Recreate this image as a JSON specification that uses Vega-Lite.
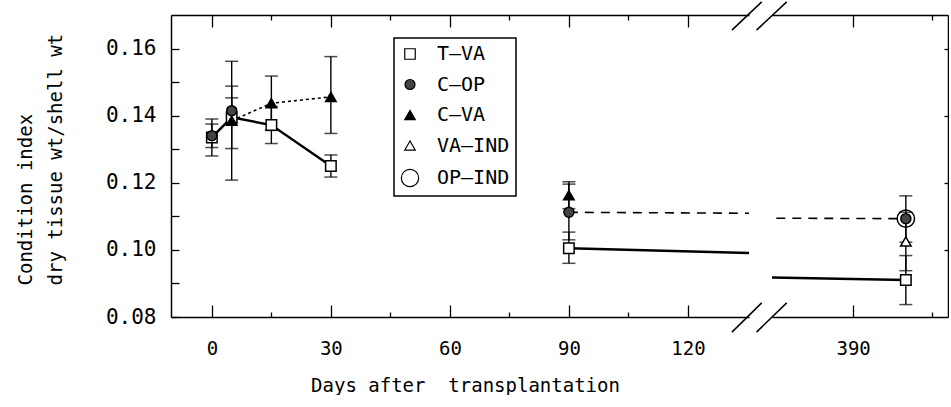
{
  "$schema": "https://vega.github.io/schema/vega-lite/v6.json",
  "background": "white",
  "padding": {"left": 16, "top": 1, "right": 0, "bottom": 0},
  "autosize": {"type": "pad"},
  "spacing": 23,
  "bounds": "flush",
  "config": {
    "view": {"stroke": null},
    "axis": {
      "labelFont": "DejaVu Sans Mono",
      "titleFont": "DejaVu Sans Mono",
      "labelColor": "black",
      "titleColor": "black",
      "domainColor": "black",
      "tickColor": "black",
      "domainWidth": 1.5,
      "tickWidth": 1.3,
      "grid": false,
      "labelFontSize": 19,
      "titleFontSize": 19,
      "titleFontWeight": "normal",
      "labelFlush": false,
      "labelOverlap": false
    },
    "legend": {"strokeWidth": 1.5}
  },
  "datasets": {
    "ci": [
      {"series": "T-VA", "day": 0, "ci": 0.1335, "lo": 0.128, "hi": 0.139, "line": "t1"},
      {"series": "C-OP", "day": 0, "ci": 0.134, "lo": 0.1305, "hi": 0.1375, "line": null},
      {"series": "T-VA", "day": 5, "ci": 0.1395, "lo": 0.1302, "hi": 0.1488, "line": "t1"},
      {"series": "C-VA", "day": 5, "ci": 0.1385, "lo": 0.1208, "hi": 0.1562, "line": "cva"},
      {"series": "C-OP", "day": 5, "ci": 0.1415, "lo": 0.1377, "hi": 0.1453, "line": null},
      {"series": "T-VA", "day": 15, "ci": 0.1372, "lo": 0.1317, "hi": 0.1427, "line": "t1"},
      {"series": "C-VA", "day": 15, "ci": 0.1437, "lo": 0.1356, "hi": 0.1518, "line": "cva"},
      {"series": "T-VA", "day": 30, "ci": 0.125, "lo": 0.1217, "hi": 0.1283, "line": "t1"},
      {"series": "C-VA", "day": 30, "ci": 0.1456, "lo": 0.1347, "hi": 0.1576, "line": "cva"},
      {"series": "T-VA", "day": 90, "ci": 0.1005, "lo": 0.096, "hi": 0.1053, "line": "t2"},
      {"series": "C-OP", "day": 90, "ci": 0.1112, "lo": 0.103, "hi": 0.1196, "line": "cop"},
      {"series": "C-VA", "day": 90, "ci": 0.1163, "lo": 0.1123, "hi": 0.1203, "line": null},
      {"series": "T-VA", "day": 400, "ci": 0.091, "lo": 0.0837, "hi": 0.0983, "line": "t2"},
      {"series": "VA-IND", "day": 400, "ci": 0.1025, "lo": 0.0938, "hi": 0.1112, "line": null},
      {"series": "C-OP", "day": 400, "ci": 0.1093, "lo": 0.1093, "hi": 0.1093, "line": "cop"},
      {"series": "OP-IND", "day": 400, "ci": 0.1093, "lo": 0.1023, "hi": 0.1161, "line": null}
    ],
    "brk": [
      {"x1": 131.1, "y1": 0.0755, "x2": 138.6, "y2": 0.0842},
      {"x1": 137.3, "y1": 0.0755, "x2": 144.9, "y2": 0.0842},
      {"x1": 131.1, "y1": 0.1655, "x2": 138.6, "y2": 0.1739},
      {"x1": 137.3, "y1": 0.1655, "x2": 144.9, "y2": 0.1739}
    ]
  },
  "resolve": {"scale": {"shape": "independent", "fill": "independent", "size": "independent"}},
  "hconcat": [
    {
      "width": 578,
      "height": 302,
      "data": {"name": "ci"},
      "resolve": {"axis": {"x": "independent", "y": "independent"}},
      "layer": [
        {
          "data": {"name": "brk"},
          "mark": {"type": "rule", "clip": false, "strokeWidth": 1.5, "color": "black"},
          "encoding": {
            "x": {"field": "x1", "type": "quantitative", "scale": {"domain": [-10.3, 135.4], "nice": false, "zero": false}, "axis": null},
            "x2": {"field": "x2"},
            "y": {"field": "y1", "type": "quantitative", "scale": {"domain": [0.08, 0.17], "nice": false, "zero": false}, "axis": null},
            "y2": {"field": "y2"}
          }
        },
        {
          "transform": [{"filter": "datum.line === 't1' || datum.line === 't2'"}],
          "mark": {"type": "line", "clip": true, "color": "black", "strokeWidth": 2.5},
          "encoding": {
            "x": {"field": "day", "type": "quantitative", "scale": {"domain": [-10.3, 135.4], "nice": false, "zero": false},
              "axis": {"orient": "bottom", "values": [0, 30, 60, 90, 120], "tickSize": -12, "labelPadding": 34, "domain": true,
                "title": "Days after\u00a0 transplantation", "titleX": 294, "titleY": 68, "titleBaseline": "middle", "titleAlign": "center"}},
            "y": {"field": "ci", "type": "quantitative", "scale": {"domain": [0.08, 0.17], "nice": false, "zero": false},
              "axis": {"orient": "left", "values": [0.08, 0.09, 0.1, 0.11, 0.12, 0.13, 0.14, 0.15, 0.16], "tickSize": -8, "labelPadding": 23,
                "labelFontSize": 21, "labelExpr": "round(datum.value*100) % 2 === 0 ? format(datum.value, '.2f') : ''", "domain": true,
                "title": ["Condition index", "dry tissue wt/shell wt"], "titleLineHeight": 30, "titleX": -146, "titleY": 270,
                "titleAlign": "left", "titleBaseline": "middle", "titleAngle": 270}},
            "detail": {"field": "line"}
          }
        },
        {
          "transform": [{"filter": "datum.line === 'cva'"}],
          "mark": {"type": "line", "clip": true, "color": "black", "strokeWidth": 1.6, "strokeDash": [3, 3]},
          "encoding": {
            "x": {"field": "day", "type": "quantitative", "scale": {"domain": [-10.3, 135.4], "nice": false, "zero": false},
              "axis": {"orient": "bottom", "values": [15, 45, 75, 105], "tickSize": -5, "labels": false, "domain": false, "title": null}},
            "y": {"field": "ci", "type": "quantitative", "scale": {"domain": [0.08, 0.17], "nice": false, "zero": false}, "axis": null}
          }
        },
        {
          "transform": [{"filter": "datum.line === 'cop'"}],
          "mark": {"type": "line", "clip": true, "color": "black", "strokeWidth": 1.6, "strokeDash": [9, 7]},
          "encoding": {
            "x": {"field": "day", "type": "quantitative", "scale": {"domain": [-10.3, 135.4], "nice": false, "zero": false},
              "axis": {"orient": "top", "values": [0, 30, 60, 90, 120], "tickSize": -12, "labels": false, "domain": true, "title": null}},
            "y": {"field": "ci", "type": "quantitative", "scale": {"domain": [0.08, 0.17], "nice": false, "zero": false}, "axis": null}
          }
        },
        {
          "transform": [{"filter": "datum.day < 300"}],
          "mark": {"type": "rule", "color": "black", "strokeWidth": 1.4},
          "encoding": {
            "x": {"field": "day", "type": "quantitative", "scale": {"domain": [-10.3, 135.4], "nice": false, "zero": false},
              "axis": {"orient": "top", "values": [15, 45, 75, 105], "tickSize": -5, "labels": false, "domain": false, "title": null}},
            "y": {"field": "lo", "type": "quantitative", "scale": {"domain": [0.08, 0.17], "nice": false, "zero": false}, "axis": null},
            "y2": {"field": "hi"}
          }
        },
        {
          "transform": [{"filter": "datum.day < 300"}],
          "mark": {"type": "tick", "orient": "horizontal", "color": "black", "size": 13, "thickness": 1.5},
          "encoding": {
            "x": {"field": "day", "type": "quantitative", "scale": {"domain": [-10.3, 135.4], "nice": false, "zero": false}, "axis": null},
            "y": {"field": "lo", "type": "quantitative", "scale": {"domain": [0.08, 0.17], "nice": false, "zero": false}, "axis": null}
          }
        },
        {
          "transform": [{"filter": "datum.day < 300"}],
          "mark": {"type": "tick", "orient": "horizontal", "color": "black", "size": 13, "thickness": 1.5},
          "encoding": {
            "x": {"field": "day", "type": "quantitative", "scale": {"domain": [-10.3, 135.4], "nice": false, "zero": false}, "axis": null},
            "y": {"field": "hi", "type": "quantitative", "scale": {"domain": [0.08, 0.17], "nice": false, "zero": false}, "axis": null}
          }
        },
        {
          "transform": [{"filter": "datum.day < 300"}],
          "mark": {"type": "point", "filled": true, "stroke": "black", "strokeWidth": 1.5, "opacity": 1},
          "encoding": {
            "x": {"field": "day", "type": "quantitative", "scale": {"domain": [-10.3, 135.4], "nice": false, "zero": false}, "axis": null},
            "y": {"field": "ci", "type": "quantitative", "scale": {"domain": [0.08, 0.17], "nice": false, "zero": false}, "axis": null},
            "shape": {"field": "series", "type": "nominal",
              "scale": {"domain": ["T-VA", "C-OP", "C-VA", "VA-IND", "OP-IND"], "range": ["square", "circle", "triangle-up", "triangle-up", "circle"]},
              "legend": {"title": null, "orient": "none", "legendX": 223, "legendY": 23, "padding": 6,
                "strokeColor": "black", "fillColor": "white",
                "labelFont": "DejaVu Sans Mono", "labelFontSize": 20, "labelColor": "black", "labelOffset": 17, "rowPadding": 10.5,
                "symbolSize": 169, "symbolStrokeColor": "black", "symbolStrokeWidth": 1.2,
                "labelExpr": "replace(datum.label, '-', '\u2014') + '\u00a0\u00a0\u00a0'"}},
            "fill": {"field": "series", "type": "nominal",
              "scale": {"domain": ["T-VA", "C-OP", "C-VA", "VA-IND", "OP-IND"], "range": ["white", "#444", "black", "white", "transparent"]}},
            "size": {"field": "series", "type": "nominal",
              "scale": {"type": "ordinal", "domain": ["T-VA", "C-OP", "C-VA", "VA-IND", "OP-IND"], "range": [110, 100, 110, 110, 300]}}
          }
        }
      ]
    },
    {
      "width": 176,
      "height": 302,
      "data": {"name": "ci"},
      "resolve": {"axis": {"x": "independent", "y": "independent"}},
      "layer": [
        {
          "transform": [{"filter": "datum.line === 't2'"}],
          "mark": {"type": "line", "clip": true, "color": "black", "strokeWidth": 2.5},
          "encoding": {
            "x": {"field": "day", "type": "quantitative", "scale": {"domain": [374.6, 408], "nice": false, "zero": false},
              "axis": {"orient": "bottom", "values": [390], "tickSize": -12, "labelPadding": 34, "domain": true, "title": null}},
            "y": {"field": "ci", "type": "quantitative", "scale": {"domain": [0.08, 0.17], "nice": false, "zero": false},
              "axis": {"orient": "right", "values": [0.1, 0.12, 0.14, 0.16], "tickSize": -4, "labels": false, "domain": true, "title": null}}
          }
        },
        {
          "transform": [{"filter": "datum.line === 'cop'"}],
          "mark": {"type": "line", "clip": true, "color": "black", "strokeWidth": 1.6, "strokeDash": [9, 7]},
          "encoding": {
            "x": {"field": "day", "type": "quantitative", "scale": {"domain": [374.6, 408], "nice": false, "zero": false},
              "axis": {"orient": "bottom", "values": [405], "tickSize": -5, "labels": false, "domain": false, "title": null}},
            "y": {"field": "ci", "type": "quantitative", "scale": {"domain": [0.08, 0.17], "nice": false, "zero": false}, "axis": null}
          }
        },
        {
          "transform": [{"filter": "datum.day > 300"}],
          "mark": {"type": "rule", "color": "black", "strokeWidth": 1.4},
          "encoding": {
            "x": {"field": "day", "type": "quantitative", "scale": {"domain": [374.6, 408], "nice": false, "zero": false},
              "axis": {"orient": "top", "values": [390], "tickSize": -12, "labels": false, "domain": true, "title": null}},
            "y": {"field": "lo", "type": "quantitative", "scale": {"domain": [0.08, 0.17], "nice": false, "zero": false}, "axis": null},
            "y2": {"field": "hi"}
          }
        },
        {
          "transform": [{"filter": "datum.day > 300 && datum.hi > datum.lo"}],
          "mark": {"type": "tick", "orient": "horizontal", "color": "black", "size": 13, "thickness": 1.5},
          "encoding": {
            "x": {"field": "day", "type": "quantitative", "scale": {"domain": [374.6, 408], "nice": false, "zero": false},
              "axis": {"orient": "top", "values": [405], "tickSize": -5, "labels": false, "domain": false, "title": null}},
            "y": {"field": "lo", "type": "quantitative", "scale": {"domain": [0.08, 0.17], "nice": false, "zero": false}, "axis": null}
          }
        },
        {
          "transform": [{"filter": "datum.day > 300 && datum.hi > datum.lo"}],
          "mark": {"type": "tick", "orient": "horizontal", "color": "black", "size": 13, "thickness": 1.5},
          "encoding": {
            "x": {"field": "day", "type": "quantitative", "scale": {"domain": [374.6, 408], "nice": false, "zero": false}, "axis": null},
            "y": {"field": "hi", "type": "quantitative", "scale": {"domain": [0.08, 0.17], "nice": false, "zero": false}, "axis": null}
          }
        },
        {
          "transform": [{"filter": "datum.day > 300"}],
          "mark": {"type": "point", "filled": true, "stroke": "black", "strokeWidth": 1.5, "opacity": 1},
          "encoding": {
            "x": {"field": "day", "type": "quantitative", "scale": {"domain": [374.6, 408], "nice": false, "zero": false}, "axis": null},
            "y": {"field": "ci", "type": "quantitative", "scale": {"domain": [0.08, 0.17], "nice": false, "zero": false}, "axis": null},
            "shape": {"field": "series", "type": "nominal",
              "scale": {"domain": ["T-VA", "C-OP", "C-VA", "VA-IND", "OP-IND"], "range": ["square", "circle", "triangle-up", "triangle-up", "circle"]},
              "legend": null},
            "fill": {"field": "series", "type": "nominal",
              "scale": {"domain": ["T-VA", "C-OP", "C-VA", "VA-IND", "OP-IND"], "range": ["white", "#444", "black", "white", "transparent"]},
              "legend": null},
            "size": {"field": "series", "type": "nominal",
              "scale": {"type": "ordinal", "domain": ["T-VA", "C-OP", "C-VA", "VA-IND", "OP-IND"], "range": [110, 100, 110, 110, 300]},
              "legend": null}
          }
        }
      ]
    }
  ]
}
